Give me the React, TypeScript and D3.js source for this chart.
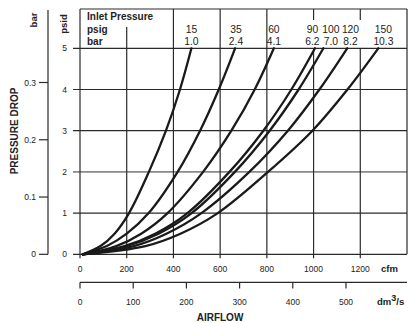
import React from "react";
import * as d3 from "d3";

const psidLevels = [0, 0.2, 0.5, 1, 2, 3, 4, 5];
const cfm15 = [12, 88, 148, 210, 295, 368, 428, 477];
const cfm35 = [12, 115, 200, 294, 418, 514, 594, 664];
const cfm60 = [12, 155, 262, 375, 527, 648, 748, 830];
const cfm90 = [12, 190, 322, 460, 640, 785, 905, 1006];
const cfm100 = [12, 200, 336, 478, 663, 812, 936, 1042];
const cfm120 = [12, 230, 370, 520, 725, 890, 1025, 1144];
const cfm150 = [12, 280, 430, 590, 805, 995, 1145, 1277];
const seriesCfm = [cfm15, cfm35, cfm60, cfm90, cfm100, cfm120, cfm150];

const psigLabels = ["15", "35", "60", "90", "100", "120", "150"];
const barLabels = ["1.0", "2.4", "4.1", "6.2", "7.0", "8.2", "10.3"];
const labelCfm = [477, 668, 830, 995, 1074, 1158, 1299];

const cfmTicks = [0, 200, 400, 600, 800, 1000, 1200];
const psidTicks = [0, 1, 2, 3, 4, 5];
const barTicks = [0, 0.1, 0.2, 0.3];
const dmTicks = [0, 100, 200, 300, 400, 500];

const FONT = "'Liberation Sans', Arial, Helvetica, sans-serif";
const INK = "#222";
const GRID = "#2a2a2a";

export default function App() {
  const x = d3.scaleLinear().domain([0, 1400]).range([80, 407]);
  const y = d3.scaleLinear().domain([0, 5]).range([254.3, 48.3]);
  const yBar = d3.scaleLinear().domain([0, 0.3]).range([254.3, 82.5]);
  const xDm = d3.scaleLinear().domain([0, 500]).range([80, 346]);
  const line = d3
    .line<[number, number]>()
    .x((d) => x(d[0]))
    .y((d) => y(d[1]))
    .curve(d3.curveCatmullRom.alpha(0.5));

  const top = 9;
  const left = x(0);
  const right = x(1400);
  const bottom = y(0);

  const headerSegs: Record<number, [number, number]> = {
    200: [27, y(5)],
    400: [top, y(5)],
    600: [top, y(5)],
    800: [top, y(5)],
    1000: [top, 20],
    1200: [top, 20],
  };

  return (
    <svg
      width={409}
      height={323}
      style={{ position: "absolute", left: 0, top: 0, background: "#fff" }}
      fontFamily={FONT}
    >
      {/* bar axis */}
      <line x1={48} x2={48} y1={10} y2={bottom} stroke={GRID} strokeWidth={1.2} />
      {barTicks.map((t) => (
        <g key={"b" + t}>
          <line x1={39} x2={48} y1={yBar(t)} y2={yBar(t)} stroke={GRID} strokeWidth={1.2} />
          <text x={36} y={yBar(t) + 3} fontSize={8.5} textAnchor="end" fill={INK}>
            {t === 0 ? "0" : t.toFixed(1)}
          </text>
        </g>
      ))}
      <text transform="translate(36.5,20) rotate(-90)" fontSize={9.5} fontWeight="bold" textAnchor="middle" fill={INK}>
        bar
      </text>
      <text transform="translate(17.5,131) rotate(-90)" fontSize={10} fontWeight="bold" textAnchor="middle" fill={INK}>
        PRESSURE DROP
      </text>
      <text transform="translate(66.5,24) rotate(-90)" fontSize={9.5} fontWeight="bold" textAnchor="middle" fill={INK}>
        psid
      </text>

      {/* psid grid + ticks */}
      {psidTicks.map((t) => (
        <g key={"p" + t}>
          <line
            x1={73}
            x2={right}
            y1={y(t)}
            y2={y(t)}
            stroke={t === 2 ? "#8a8a8a" : GRID}
            strokeWidth={t === 2 ? 1.7 : 1.2}
          />
          <text x={67} y={y(t) + 3} fontSize={8.5} textAnchor="end" fill={INK}>
            {t}
          </text>
        </g>
      ))}

      {/* cfm grid */}
      {cfmTicks.map((t) => (
        <g key={"c" + t}>
          <line
            x1={x(t)}
            x2={x(t)}
            y1={t === 0 ? top : y(5)}
            y2={bottom + 4}
            stroke={GRID}
            strokeWidth={1.2}
          />
          {headerSegs[t] && (
            <line x1={x(t)} x2={x(t)} y1={headerSegs[t][0]} y2={headerSegs[t][1]} stroke={GRID} strokeWidth={1.2} />
          )}
          <text x={x(t)} y={272} fontSize={8.5} textAnchor="middle" fill={INK}>
            {t}
          </text>
        </g>
      ))}
      <text x={381} y={272} fontSize={9.5} fontWeight="bold" fill={INK}>
        cfm
      </text>

      {/* frame */}
      <line x1={left} x2={right} y1={top} y2={top} stroke={GRID} strokeWidth={1.2} />
      <line x1={right} x2={right} y1={top} y2={bottom} stroke={GRID} strokeWidth={1.2} />

      {/* header */}
      <text x={87} y={20} fontSize={10} fontWeight="bold" fill={INK}>
        Inlet Pressure
      </text>
      <text x={87} y={32.5} fontSize={10} fontWeight="bold" fill={INK}>
        psig
      </text>
      <text x={87} y={44.5} fontSize={10} fontWeight="bold" fill={INK}>
        bar
      </text>
      {psigLabels.map((p, i) => (
        <g key={"h" + p}>
          <text x={x(labelCfm[i])} y={33} fontSize={10.3} textAnchor="middle" fill={INK}>
            {p}
          </text>
          <text x={x(labelCfm[i])} y={44.5} fontSize={10.3} textAnchor="middle" fill={INK}>
            {barLabels[i]}
          </text>
        </g>
      ))}

      {/* curves */}
      {seriesCfm.map((s, i) => (
        <path
          key={"s" + i}
          d={line(s.map((c, j) => [c, psidLevels[j]] as [number, number])) || ""}
          fill="none"
          stroke="#1a1a1a"
          strokeWidth={2.3}
          strokeLinecap="round"
        />
      ))}

      {/* dm3/s axis */}
      <line x1={80} x2={407} y1={282.3} y2={282.3} stroke={GRID} strokeWidth={1.2} />
      {dmTicks.map((t) => (
        <g key={"d" + t}>
          <line x1={xDm(t)} x2={xDm(t)} y1={282.3} y2={288.5} stroke={GRID} strokeWidth={1.2} />
          <text x={xDm(t)} y={305} fontSize={8.5} textAnchor="middle" fill={INK}>
            {t}
          </text>
        </g>
      ))}
      <text x={377} y={305} fontSize={9.5} fontWeight="bold" fill={INK}>
        dm
        <tspan dy={-4} fontSize={9}>3</tspan>
        <tspan dy={4}>/s</tspan>
      </text>
      <text x={220} y={320.5} fontSize={10} fontWeight="bold" textAnchor="middle" fill={INK}>
        AIRFLOW
      </text>
    </svg>
  );
}
